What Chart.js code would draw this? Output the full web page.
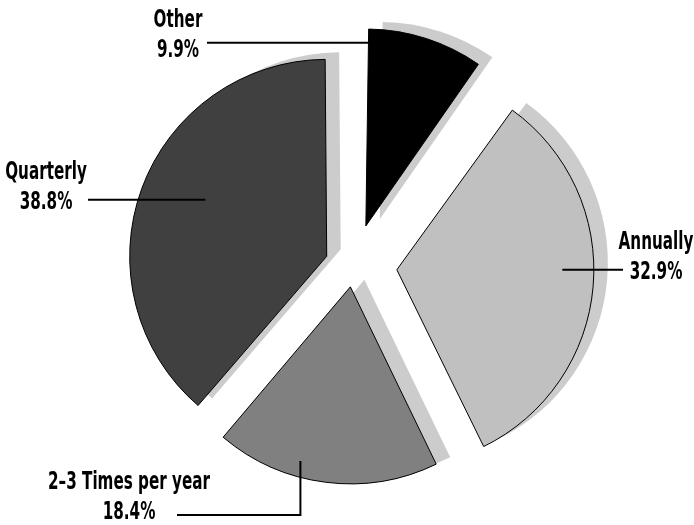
<!DOCTYPE html>
<html>
<head>
<meta charset="utf-8">
<script src="https://cdn.jsdelivr.net/npm/chart.js@4/dist/chart.umd.min.js"></script>
<style>
  html, body { margin: 0; padding: 0; background: #fff; }
  #wrap { width: 694px; height: 525px; position: relative; }
</style>
</head>
<body>
<div id="wrap"><canvas id="chart"></canvas></div>
<script>
// slices, clockwise from 12 o'clock
const labels = ['Other', 'Annually', '2–3 Times per year', 'Quarterly'];
const shares = [9.9, 32.9, 18.4, 38.8];
const fills = ['#000000', '#c0c0c0', '#808080', '#404040'];
// how far each slice is pulled out, px
const explode = [42, 44, 21, 28];

const RADIUS = 197;
const SHADOW = { dx: 14, dy: -7, color: '#cccccc' };
const FONT = '700 25px "DejaVu Sans", sans-serif';
const WIDEST_LABEL = 162; // px the longest label takes in the picture (condensed face)

// leader lines: angle (deg, clockwise from top) and reach (share of radius) inside the slice
const callouts = [
    { slice: 0, angle: 1, reach: 0.93, lineEnd: 207, textX: 178, dy: 5 },
    { slice: 1, angle: 90, reach: 0.84, lineEnd: 623, textX: 656, dy: 0 },
    { slice: 2, angle: 196, reach: 0.92, elbowY: 515, lineEnd: 177, textX: 129, dy: -5 },
    { slice: 3, angle: 295, reach: 0.68, lineEnd: 88, textX: 46, dy: 0 }
];

// chart.js v4 draws an arc offset by offset/4 and grows small arcs a bit, undo the growth
function arcGeom(arc) {
    const off = (arc.options.offset || 0) / 4;
    const fix = 1 - Math.sin(Math.min(Math.PI, arc.circumference));
    const mid = (arc.startAngle + arc.endAngle) / 2;
    return { off, fix, x: arc.x + Math.cos(mid) * off, y: arc.y + Math.sin(mid) * off };
}

function condensedText(ctx, text, x, y, sx) {
    ctx.save();
    ctx.translate(x, y);
    ctx.scale(sx, 1);
    ctx.fillText(text, 0, 0);
    ctx.restore();
}

const explodedPie = {
    id: 'explodedPie',
    beforeDatasetsDraw(chart) {
        const ctx = chart.ctx;
        const arcs = chart.getDatasetMeta(0).data;
        arcs.forEach(arc => {
            const g = arcGeom(arc);
            arc.outerRadius = RADIUS - g.fix * g.off;
        });
        // flat grey shadow under every slice
        arcs.forEach(arc => {
            const o = arc.options;
            arc.options = Object.assign({}, o, { backgroundColor: SHADOW.color, borderWidth: 0 });
            ctx.save();
            ctx.translate(SHADOW.dx, SHADOW.dy);
            arc.draw(ctx);
            ctx.restore();
            arc.options = o;
        });
    },
    afterDraw(chart) {
        const ctx = chart.ctx;
        const arcs = chart.getDatasetMeta(0).data;
        ctx.save();
        ctx.strokeStyle = '#000';
        ctx.lineWidth = 2;
        ctx.fillStyle = '#000';
        ctx.font = FONT;
        ctx.textAlign = 'center';
        ctx.textBaseline = 'alphabetic';
        const longest = Math.max(...labels.map(l => ctx.measureText(l).width));
        const sx = Math.min(1, WIDEST_LABEL / longest);
        callouts.forEach(c => {
            const arc = arcs[c.slice];
            const g = arcGeom(arc);
            const a = c.angle * Math.PI / 180;
            const ax = g.x + Math.sin(a) * RADIUS * c.reach;
            const ay = g.y - Math.cos(a) * RADIUS * c.reach;
            let ty = ay;
            ctx.beginPath();
            ctx.moveTo(ax, ay);
            if (c.elbowY) {
                ctx.lineTo(ax, c.elbowY);
                ctx.lineTo(c.lineEnd, c.elbowY);
                ty = c.elbowY;
            } else {
                ctx.lineTo(c.lineEnd, ay);
            }
            ctx.stroke();
            const base = ty + 9 + c.dy;
            condensedText(ctx, labels[c.slice], c.textX, base - 30, sx);
            condensedText(ctx, shares[c.slice].toFixed(1) + '%', c.textX, base, sx);
        });
        ctx.restore();
    }
};

new Chart(document.getElementById('chart'), {
    type: 'pie',
    data: {
        labels: labels,
        datasets: [{
            data: shares,
            backgroundColor: fills,
            borderColor: '#000',
            borderWidth: 1,
            offset: explode.map(d => d * 4)
        }]
    },
    options: {
        responsive: true,
        maintainAspectRatio: false,
        animation: false,
        radius: RADIUS,
        layout: { padding: { left: 12, top: 7 } },
        plugins: {
            legend: { display: false },
            tooltip: { enabled: false }
        }
    },
    plugins: [explodedPie]
});
</script>
</body>
</html>
